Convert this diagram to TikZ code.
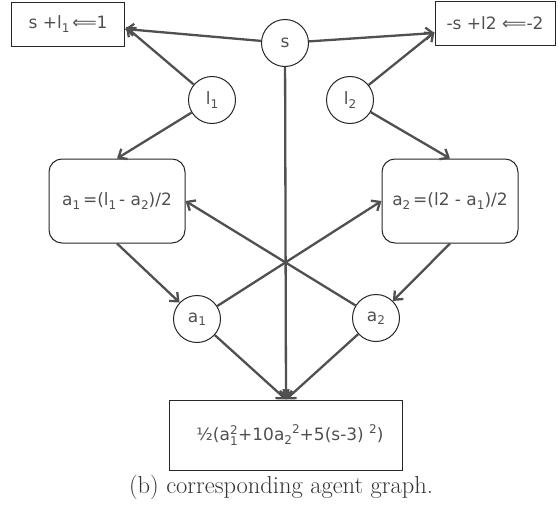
\documentclass[tikz,border=0pt]{standalone}
\usepackage{fontspec}
\newfontfamily\dv{DejaVu Sans}
\usetikzlibrary{arrows.meta}
\definecolor{ink}{HTML}{505050}
\newcommand{\sbx}[1]{\raisebox{-0.35ex}{\fontsize{12}{12}\selectfont #1}}
\newcommand{\spx}[1]{\raisebox{0.75ex}{\fontsize{12}{12}\selectfont #1}}
\newcommand{\sbsp}[2]{$\mbox{}_{\mbox{\fontsize{12}{12}\selectfont #1}}^{\mbox{\fontsize{12}{12}\selectfont #2}}$}
\begin{document}
\begin{tikzpicture}[x=1pt,y=-1pt,
  lbl/.style={font=\dv\fontsize{17}{19}\selectfont, text=ink},
  rbox/.style={lbl, draw=black!85, line width=1pt, minimum width=#1, inner sep=0pt},
  circ/.style={lbl, draw=black!85, line width=1pt, circle, minimum size=47, inner sep=0pt},
  conn/.style={draw=ink, line width=2.3pt, -{Straight Barb[length=7pt,width=12pt]}}]
\useasboundingbox (0,0) rectangle (558,506);
\node[rbox=113, minimum height=44] (c1) at (68,24) {s +l\sbx{1}\,⟸1};
\node[rbox=120, minimum height=44] (c2) at (495,23) {-s +l2 ⟸-2};
\node[circ] (s) at (285,43) {s};
\node[circ] (l1) at (212,100) {l\sbx{1}};
\node[circ] (l2) at (350,100) {l\sbx{2}};
\node[rbox=136, minimum height=84, rounded corners=13] (b1) at (117,201) {a\sbx{1}\,=(l\sbx{1}\,- a\sbx{2})/2};
\node[rbox=136, minimum height=84, rounded corners=13] (b2) at (450,201) {a\sbx{2}\,=(l2 - a\sbx{1})/2};
\node[circ] (a1) at (197,319) {a\sbx{1}};
\node[circ] (a2) at (376,318) {a\sbx{2}};
\node[rbox=233, minimum height=70] (f) at (286,435) {\hspace*{8pt}½(a\sbsp{1}{2}+10a\sbx{2}\spx{2}+5(s-3) \spx{2})};
\node[font=\fontsize{24.5}{27}\selectfont, text=black!80] (cap) at (281,487) {(b) corresponding agent graph.};
\draw[conn] (s) -- (c1.east |- 0,29);
\draw[conn] (l1) -- ([xshift=1pt,yshift=2pt]c1.east |- 0,29);
\draw[conn] (s) -- (c2.west |- 0,33);
\draw[conn] (l2) -- ([yshift=3pt]c2.west |- 0,35);
\draw[conn] (l1) -- (b1.north);
\draw[conn] (l2) -- (b2.north);
\draw[conn] (b1.south) -- (a1);
\draw[conn] (b2.south) -- (a2);
\draw[conn] (a1) -- (b2.west);
\draw[conn] (a2) -- (b1.east);
\draw[conn] (s) -- (f.north);
\draw[conn] (a1) -- (f.north);
\draw[conn] (a2) -- (f.north);
\end{tikzpicture}
\end{document}
